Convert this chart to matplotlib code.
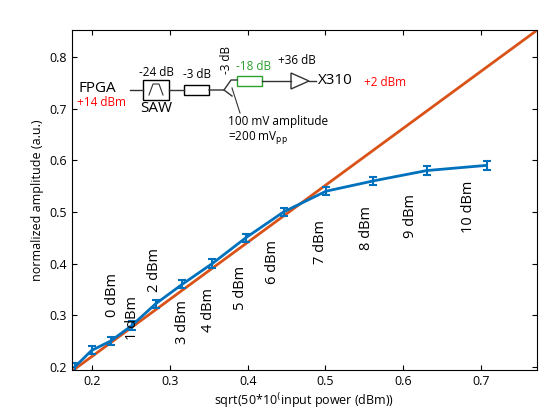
import numpy as np
import matplotlib
matplotlib.use("Agg")
import matplotlib.pyplot as plt
from matplotlib.patches import Rectangle, Polygon
from matplotlib.lines import Line2D

plt.rcParams['font.family'] = ['Open Sans', 'DejaVu Sans']

power_dbm = [-2, -1, 0, 1, 2, 3, 4, 5, 6, 7, 8, 9, 10]
amplitude = [0.200, 0.232, 0.250, 0.280, 0.322, 0.360, 0.400, 0.450, 0.500, 0.540, 0.560, 0.580, 0.590]
errors = [0.008] * 13
fit_slope = 1.103
label_text = ["0 dBm", "1 dBm", "2 dBm", "3 dBm", "4 dBm", "5 dBm", "6 dBm", "7 dBm", "8 dBm", "9 dBm", "10 dBm"]
label_px = [(113, 295), (133, 318), (155, 270), (183, 322), (209, 310), (240, 288), (272, 262),
            (320, 242), (366, 228), (410, 216), (468, 207)]

W, H = 559, 419
fig = plt.figure(figsize=(W/100, H/100), dpi=100)
L, R, T, B = 72, 537, 30, 370
ax = fig.add_axes([L/W, 1-B/H, (R-L)/W, (B-T)/H])
xs = np.sqrt(50*10**(np.array(power_dbm)/10)/1000)
xl = (0.174, 0.772)
ax.plot(xl, [fit_slope*xl[0], fit_slope*xl[1]], color="#d95319", lw=2)
ax.errorbar(xs, amplitude, yerr=errors, color="#0072bd", lw=2, capsize=3, capthick=1.5, elinewidth=1.5)
ax.set_xlim(*xl)
ax.set_ylim(0.194, 0.852)
ax.set_xticks([0.2, 0.3, 0.4, 0.5, 0.6, 0.7])
ax.set_yticks([0.2, 0.3, 0.4, 0.5, 0.6, 0.7, 0.8])
ax.tick_params(direction="in", top=True, right=True, labelsize=9)
ax.set_xlabel("sqrt(50*10$^{(}$input power (dBm))", fontsize=9, labelpad=2)
ax.set_ylabel("normalized amplitude (a.u.)", fontsize=9)
for s in ax.spines.values():
    s.set_linewidth(0.8)

def fx(px): return px/W
def fy(py): return 1-py/H
for t, (px, py) in zip(label_text, label_px):
    fig.text(fx(px), fy(py), t, rotation=90, ha="center", va="center", fontsize=10.5)

k = dict(transform=fig.transFigure)
def line(xs_, ys_, c="#333", lw=1):
    fig.add_artist(Line2D([fx(x) for x in xs_], [fy(y) for y in ys_], color=c, lw=lw))
def box(x0, y0, x1, y1, c="black"):
    fig.add_artist(Rectangle((fx(x0), fy(y1)), fx(x1)-fx(x0), fy(y0)-fy(y1), fill=False, ec=c, lw=1, **k))
fig.text(fx(78), fy(88), "FPGA", fontsize=11, ha="left", va="center")
fig.text(fx(77), fy(103), "+14 dBm", fontsize=8.5, color="red", ha="left", va="center")
line([130, 143], [90, 90])
box(143, 80, 169, 100)
line([149, 153, 159, 163], [95, 84, 84, 95], lw=0.8)
fig.text(fx(156), fy(109), "SAW", fontsize=11, ha="center", va="center")
fig.text(fx(156), fy(73), "-24 dB", fontsize=8.5, ha="center", va="center")
line([169, 184], [90, 90])
box(184, 85, 209, 95)
fig.text(fx(197), fy(74), "-3 dB", fontsize=8.5, ha="center", va="center")
line([209, 224, 231, 237], [90, 90, 80, 80])
line([224, 232], [90, 96])
fig.text(fx(226), fy(60), "-3 dB", fontsize=8.5, rotation=90, ha="center", va="center")
box(237, 76, 262, 86, c="#2ca02c")
fig.text(fx(254), fy(67), "-18 dB", fontsize=8.5, color="#2ca02c", ha="center", va="center")
line([262, 291], [81, 81])
fig.add_artist(Polygon([(fx(291), fy(73)), (fx(291), fy(89)), (fx(309), fy(81))], fill=False, ec="#333", lw=1, **k))
line([309, 316], [81, 81])
fig.text(fx(297), fy(60), "+36 dB", fontsize=8.5, ha="center", va="center")
fig.text(fx(318), fy(81), "X310", fontsize=11, ha="left", va="center")
fig.text(fx(364), fy(83), "+2 dBm", fontsize=8.5, color="red", ha="left", va="center")
fig.add_artist(Line2D([fx(240), fx(232)], [fy(113), fy(88)], color="#333", lw=0.8))
fig.text(fx(228), fy(121), "100 mV amplitude", fontsize=8.5, ha="left", va="center")
fig.text(fx(228), fy(138), "=200 mV$_{\\rm pp}$", fontsize=8.5, ha="left", va="center")
fig.savefig("out.png", dpi=100)
